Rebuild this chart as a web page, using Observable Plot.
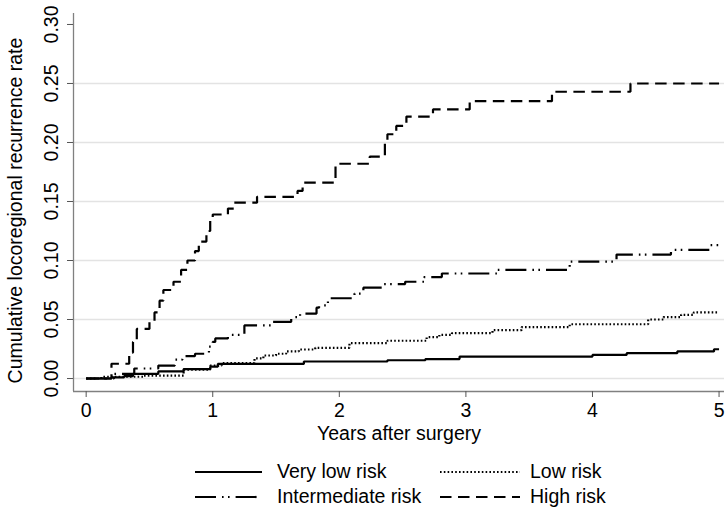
<!DOCTYPE html>
<html><head><meta charset="utf-8">
<script src="https://cdn.jsdelivr.net/npm/d3@7"></script>
<script src="https://cdn.jsdelivr.net/npm/@observablehq/plot@0.6"></script>
<style>
html,body{margin:0;padding:0;background:#fff;}
#chart{width:726px;height:509px;position:relative;font-family:"Liberation Sans",Arial,sans-serif;color:#000;}
.key{position:absolute;}
.lab{position:absolute;font-size:19.5px;line-height:20px;white-space:nowrap;}
</style></head><body><div id="chart"></div>
<script>
// ---- data ----
const seriesNames = ["Very low risk", "Low risk", "Intermediate risk", "High risk"];

const vlowT = [0, 0.20, 0.30, 0.37, 0.57, 0.77, 0.98, 1.04, 1.72, 2.38, 2.68, 2.95, 4.00, 4.27, 4.67, 4.96, 5.00];
const vlowV = [0, 0.001, 0.002, 0.004, 0.006, 0.008, 0.010, 0.0124, 0.0144, 0.0155, 0.0165, 0.0186, 0.020, 0.0215, 0.023, 0.0248, 0.0248];

const lowT = [0, 0.12, 0.45, 0.77, 0.98, 1.07, 1.33, 1.40, 1.50, 1.58, 1.68, 1.81, 2.08, 2.38, 2.69, 2.79, 2.89, 3.21, 3.44, 3.82, 4.44, 4.56, 4.70, 4.80, 5.00];
const lowV = [0, 0.0015, 0.0025, 0.0076, 0.011, 0.013, 0.017, 0.0195, 0.021, 0.023, 0.0246, 0.026, 0.030, 0.032, 0.035, 0.037, 0.0385, 0.041, 0.0435, 0.046, 0.050, 0.052, 0.054, 0.056, 0.056];

const interT = [0, 0.22, 0.38, 0.57, 0.70, 0.76, 0.86, 0.97, 1.00, 1.02, 1.12, 1.25, 1.46, 1.62, 1.69, 1.82, 1.84, 1.91, 2.12, 2.19, 2.35, 2.52, 2.67, 2.81, 3.25, 3.82, 4.19, 4.62, 4.93, 5.00];
const interV = [0, 0.004, 0.0085, 0.011, 0.016, 0.019, 0.021, 0.027, 0.031, 0.034, 0.037, 0.045, 0.048, 0.052, 0.055, 0.060, 0.062, 0.068, 0.072, 0.077, 0.080, 0.082, 0.086, 0.089, 0.092, 0.099, 0.105, 0.109, 0.113, 0.113];

const highT = [0, 0.20, 0.34, 0.37, 0.40, 0.50, 0.54, 0.58, 0.61, 0.69, 0.75, 0.80, 0.86, 0.89, 0.95, 0.98, 1.00, 1.12, 1.17, 1.35, 1.67, 1.71, 1.97, 2.24, 2.36, 2.38, 2.45, 2.53, 2.74, 3.03, 3.68, 4.30, 5.00];
const highV = [0, 0.0125, 0.022, 0.031, 0.042, 0.048, 0.056, 0.066, 0.075, 0.082, 0.092, 0.100, 0.108, 0.116, 0.125, 0.134, 0.139, 0.144, 0.149, 0.154, 0.159, 0.166, 0.182, 0.188, 0.200, 0.207, 0.214, 0.222, 0.228, 0.235, 0.243, 0.250, 0.250];

const xTicks = [0, 1, 2, 3, 4, 5];
const yTicks = [0, 0.05, 0.10, 0.15, 0.20, 0.25, 0.30];
const gridTicks = [0, 0.05, 0.10, 0.15, 0.20, 0.25];
const xTitle = "Years after surgery";
const yTitle = "Cumulative locoregional recurrence rate";

// ---- build ----
const zip = (T, V, s) => T.map((t, i) => ({t, v: V[i], s}));
const seriesData = [
  zip(vlowT, vlowV, seriesNames[0]),
  zip(lowT, lowV, seriesNames[1]),
  zip(interT, interV, seriesNames[2]),
  zip(highT, highV, seriesNames[3])
];
const styles = [
  {dash: null, w: 2.2},
  {dash: "1.6,2.2", w: 2.2},
  {dash: "21,6,1.6,4.4,1.6,6", w: 2.2},
  {dash: "11.5,6.5", w: 2.2}
];

const xDomain = [-0.1, 5.043];
const yDomain = [-0.011, 0.3093];
const FONT = "'Liberation Sans', Arial, sans-serif";

const plot = Plot.plot({
  width: 726, height: 445,
  marginLeft: 73, marginRight: 2, marginTop: 13, marginBottom: 54,
  x: {domain: xDomain},
  y: {domain: yDomain},
  style: {fontFamily: FONT, fontSize: "19.5px", color: "#000", background: "#fff", overflow: "visible"},
  marks: [
    Plot.ruleY(gridTicks, {stroke: "#e3e3e3", strokeWidth: 1.4}),
    Plot.ruleX([xDomain[0]], {stroke: "#808080", strokeWidth: 1.3}),
    Plot.ruleY([yDomain[0]], {stroke: "#808080", strokeWidth: 1.3}),
    Plot.axisY({ticks: yTicks, tickFormat: d3.format(".2f"), tickSize: 6, tickPadding: 10, tickRotate: -90,
      fontSize: 19.5, label: null, stroke: "#555", fill: "#000"}),
    Plot.axisX({ticks: xTicks, tickFormat: d3.format("d"), tickSize: 6, tickPadding: 6,
      fontSize: 19.5, label: null, stroke: "#555", fill: "#000"}),
    Plot.text([yTitle], {frameAnchor: "left", dx: -58, dy: 8, rotate: -90, fontSize: 19.5,
      textAnchor: "middle", lineAnchor: "middle", fill: "#000"}),
    Plot.text([xTitle], {frameAnchor: "bottom", dy: 42, fontSize: 19.5, lineAnchor: "middle", fill: "#000"}),
    ...seriesData.map((d, i) => Plot.line(d, {x: "t", y: "v", curve: "step-after", stroke: "#000",
      strokeWidth: styles[i].w, strokeDasharray: styles[i].dash, strokeLinecap: "butt", strokeLinejoin: "miter"}))
  ]
});
const chart = document.getElementById("chart");
chart.appendChild(plot);

// ---- legend (HTML below the SVG) ----
const keyX = [195, 440], keyW = [67, 80], labX = [277, 530], rowY = [471.5, 497];
const layout = [[0, 0], [0, 1], [1, 0], [1, 1]]; // [row, col] for each series
seriesNames.forEach((name, i) => {
  const [r, c] = layout[i];
  const ns = "http://www.w3.org/2000/svg";
  const svg = document.createElementNS(ns, "svg");
  svg.setAttribute("width", keyW[c]); svg.setAttribute("height", 6);
  svg.setAttribute("class", "key");
  svg.style.left = keyX[c] + "px"; svg.style.top = (rowY[r] - 3) + "px";
  const ln = document.createElementNS(ns, "line");
  ln.setAttribute("x1", 0); ln.setAttribute("x2", keyW[c]); ln.setAttribute("y1", 3); ln.setAttribute("y2", 3);
  ln.setAttribute("stroke", "#000"); ln.setAttribute("stroke-width", styles[i].w);
  if (styles[i].dash) ln.setAttribute("stroke-dasharray", styles[i].dash);
  svg.appendChild(ln);
  chart.appendChild(svg);
  const lab = document.createElement("div");
  lab.className = "lab"; lab.textContent = name;
  lab.style.left = labX[c] + "px"; lab.style.top = (rowY[r] - 11) + "px";
  chart.appendChild(lab);
});
</script></body></html>
